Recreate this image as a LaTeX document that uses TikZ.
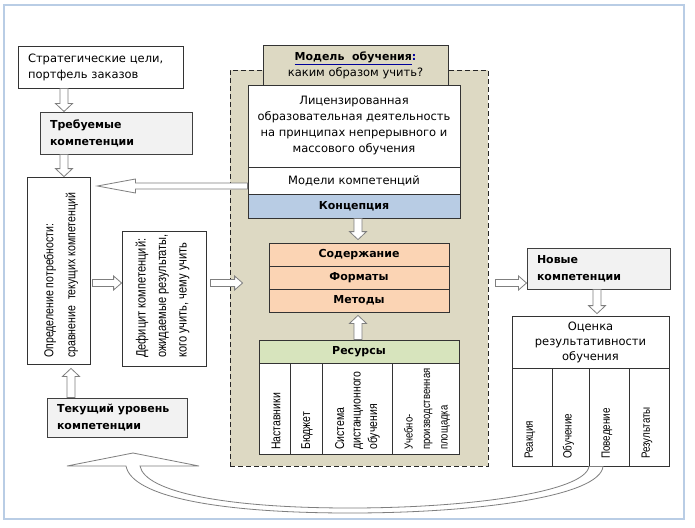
\documentclass[tikz,border=0pt]{standalone}
\usepackage{fontspec}
\setmainfont{DejaVu Sans}
\newfontfamily\narrowfont[FakeStretch=0.82]{Liberation Sans}
\usetikzlibrary{calc}
\definecolor{framec}{HTML}{B9CDE5}
\definecolor{tanc}{HTML}{DDD9C3}
\definecolor{grayfill}{HTML}{F2F2F2}
\definecolor{blueb}{HTML}{B8CCE4}
\definecolor{orangeb}{HTML}{FBD4B4}
\definecolor{greenb}{HTML}{D7E4BD}
\definecolor{arrowc}{HTML}{7F7F7F}
\tikzset{
  box/.style={draw=black!80, line width=0.8pt, fill=white, inner sep=0pt},
  gbox/.style={box, fill=grayfill, line width=1pt, draw=black!75},
  harrow/.style={draw=arrowc, fill=white, line width=0.8pt, line join=miter},
  reg/.style={font=\fontsize{11.5}{16}\selectfont},
  bld/.style={font=\fontsize{11}{17}\selectfont\bfseries},
  rot/.style={rotate=90, anchor=west, inner sep=0pt, align=left},
}
\newcommand\blockarrow[5]{%
  \draw[harrow] let \p1=($(#2)-(#1)$), \n1={veclen(\x1,\y1)}, \n2={atan2(\y1,\x1)} in
  [shift={(#1)}, rotate=\n2] (0,-#3) -- ({\n1-#5},-#3) -- ({\n1-#5},-#4) -- (\n1,0)
  -- ({\n1-#5},#4) -- ({\n1-#5},#3) -- (0,#3) -- cycle;}
\begin{document}
\begin{tikzpicture}[x=1pt,y=-1pt]
\useasboundingbox (0,0) rectangle (695,527);
\fill[white] (0,0) rectangle (695,527);
\draw[framec, line width=2.5pt] (4,5) rectangle (684,519);

% left column
\node[box, minimum width=165pt, minimum height=42pt, text width=145pt, align=left, reg] (strat) at (100.5,67) {Стратегические цели,\\портфель заказов};
\node[gbox, minimum width=152pt, minimum height=42pt, text width=132pt, align=left, bld] (treb) at (116,133) {Требуемые\\компетенции};
\node[box, minimum width=63pt, minimum height=187pt] (opr) at (58.5,270.5) {};
\node[rot, font=\narrowfont\fontsize{12.9}{22}\selectfont] (oprt) at (61,358) {Определение потребности:\\сравнение\ \ текущих компетенций};
\node[box, minimum width=84pt, minimum height=135pt] (def) at (164,298.5) {};
\node[rot, font=\narrowfont\fontsize{13.5}{20.5}\selectfont] (deft) at (162.5,358) {Дефицит компетенций:\\ожидаемые результаты,\\кого учить, чему учить};
\node[gbox, minimum width=140pt, minimum height=39pt, text width=120pt, align=left, bld] (tek) at (117,417.5) {Текущий уровень\\компетенции};

% central model
\node[draw=black!85, dashed, dash pattern=on 5pt off 3pt, line width=0.8pt, fill=tanc, minimum width=258pt, minimum height=396pt, inner sep=0pt] (dbox) at (359,268) {};
\node[box, fill=tanc, minimum width=185pt, minimum height=40pt, align=center, reg] (mhead) at (355.5,65) {{\bfseries\fontsize{11}{16}\selectfont{\color{blue!60!black}\underline{{\color{black}Модель\ \ обучения}}:}}\\каким образом учить?};
\node[box, minimum width=212pt, minimum height=82pt, align=center, reg] (lic) at (354,126) {Лицензированная\\образовательная деятельность\\на принципах непрерывного и\\массового обучения};
\node[box, minimum width=212pt, minimum height=27pt, reg] (modk) at (354,180.5) {Модели компетенций};
\node[box, fill=blueb, minimum width=212pt, minimum height=24pt, bld] (konc) at (354,206) {Концепция};
\node[box, fill=orangeb, minimum width=180pt, minimum height=23pt, bld] (sod) at (359,254.5) {Содержание};
\node[box, fill=orangeb, minimum width=180pt, minimum height=23pt, bld] (form) at (359,277.5) {Форматы};
\node[box, fill=orangeb, minimum width=180pt, minimum height=23pt, bld] (met) at (359,300.5) {Методы};
\node[box, fill=greenb, minimum width=200pt, minimum height=23pt, bld] (res) at (359,351.5) {Ресурсы};
\node[box, minimum width=31pt, minimum height=91pt] (rc1) at (274.5,408.5) {};
\node[box, minimum width=32pt, minimum height=91pt] (rc2) at (306,408.5) {};
\node[box, minimum width=70pt, minimum height=91pt] (rc3) at (357,408.5) {};
\node[box, minimum width=67pt, minimum height=91pt] (rc4) at (425.5,408.5) {};
\tikzset{rcol/.style={rot, font=\narrowfont\fontsize{12.8}{16.5}\selectfont}}
\node[rcol] (rt1) at (276,450) {Наставники};
\node[rcol] (rt2) at (307,450) {Бюджет};
\node[rcol] (rt3) at (357.5,450) {Система\\дистанционного\\обучения};
\node[rcol, font=\narrowfont\fontsize{11.6}{17.5}\selectfont] (rt4) at (427,450) {Учебно-\\производственная\\площадка};

% right column
\node[gbox, minimum width=143pt, minimum height=41pt, text width=123pt, align=left, bld] (new) at (598.5,268.5) {Новые\\компетенции};
\node[box, minimum width=157pt, minimum height=52pt, align=center, font=\fontsize{11.5}{15}\selectfont] (ocen) at (590.5,342) {Оценка\\результативности\\обучения};
\node[box, minimum width=40pt, minimum height=98pt] (oc1) at (532,417) {};
\node[box, minimum width=37pt, minimum height=98pt] (oc2) at (570.5,417) {};
\node[box, minimum width=40pt, minimum height=98pt] (oc3) at (609,417) {};
\node[box, minimum width=40pt, minimum height=98pt] (oc4) at (649,417) {};
\tikzset{ocol/.style={rot, font=\narrowfont\fontsize{12}{16}\selectfont}}
\node[ocol] (ot1) at (530,459) {Реакция};
\node[ocol] (ot2) at (568.5,459) {Обучение};
\node[ocol] (ot3) at (607,459) {Поведение};
\node[ocol] (ot4) at (647,459) {Результаты};

% helper coordinates
\coordinate (y283) at (0,283);
\coordinate (x358) at (358,0);
\coordinate (x597) at (597,0);
\coordinate (x71) at (71,0);
\coordinate (a1s) at ([xshift=-36.5pt]strat.south);
\coordinate (a1e) at (a1s |- treb.north);
\coordinate (a2s) at (a1s |- treb.south);
\coordinate (a2e) at (a1s |- opr.north);
\coordinate (a3s) at ([yshift=-5.5pt]modk.west);
\coordinate (a3e) at ([xshift=7pt]opr.east |- a3s);
\coordinate (a4s) at ([xshift=2pt]opr.east |- y283);
\coordinate (a4e) at (def.west |- y283);
\coordinate (a5s) at ([xshift=4pt]def.east |- y283);
\coordinate (a5e) at ([xshift=13pt]dbox.west |- y283);
\coordinate (a6s) at (x358 |- konc.south);
\coordinate (a6e) at ([yshift=3pt]x358 |- sod.north);
\coordinate (a7s) at (x358 |- res.north);
\coordinate (a7e) at ([yshift=-3pt]x358 |- met.south);
\coordinate (a8s) at ([xshift=7pt]dbox.east |- y283);
\coordinate (a8e) at (new.west |- y283);
\coordinate (a9s) at (x597 |- new.south);
\coordinate (a9e) at ([yshift=2pt]x597 |- ocen.north);
\coordinate (a10s) at (x71 |- tek.north);
\coordinate (a10e) at ([yshift=-4pt]x71 |- opr.south);

\blockarrow{a1s}{a1e}{4}{8.5}{8}
\blockarrow{a2s}{a2e}{4}{8.5}{8}
\blockarrow{a3s}{a3e}{3}{7}{38}
\blockarrow{a4s}{a4e}{3.5}{7}{8}
\blockarrow{a5s}{a5e}{3.5}{7}{8}
\blockarrow{a6s}{a6e}{4}{8.5}{8}
\blockarrow{a7s}{a7e}{4}{8.5}{8}
\blockarrow{a8s}{a8e}{3.5}{7}{8}
\blockarrow{a9s}{a9e}{4}{8.5}{8}
\blockarrow{a10s}{a10e}{4}{8.5}{8}

% curved feedback arrow
\coordinate (ci) at ([xshift=-20pt]oc3.south);
\coordinate (co) at ([xshift=-6pt]oc3.south);
\draw[harrow] (ci) .. controls (585,492) and (470,508) .. (350,508)
  .. controls (225,508) and (145,492) .. (140,466)
  -- (199,466) -- (133,453) -- (67,466) -- (126,466)
  .. controls (132,497) and (220,513) .. (350,513)
  .. controls (480,513) and (600,496) .. (co) -- cycle;
\end{tikzpicture}
\end{document}
